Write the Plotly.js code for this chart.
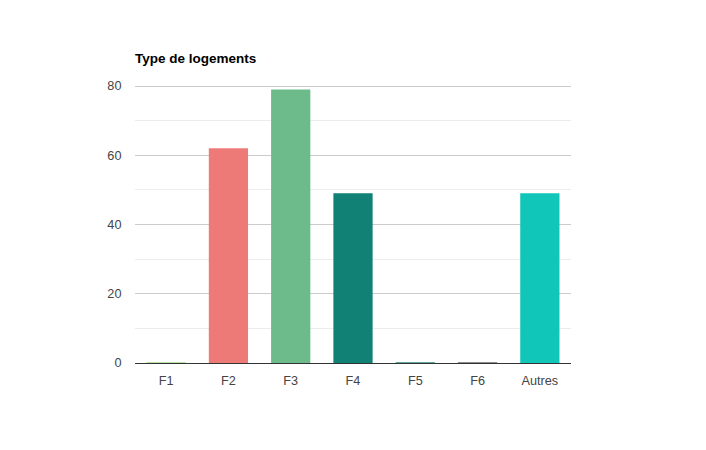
<!DOCTYPE html>
<html><head><meta charset="utf-8">
<script src="https://cdn.plot.ly/plotly-3.0.1.min.js"></script>
<style>body{margin:0;background:#fff}#c{width:706px;height:450px}</style>
</head><body><div id="c"></div>
<script>
const categories = ["F1","F2","F3","F4","F5","F6","Autres"];
const values = [0.3, 62, 79, 49, 0.3, 0.3, 49];
const colors = ["#b7e2a3","#ee7a78","#6dbb8b","#108174","#5fa89f","#8a8a8a","#10c6b8"];
const yTicks = [0,20,40,60,80];
const chartTitle = "Type de logements";

Plotly.newPlot("c", [{
  type: "bar", x: categories, y: values,
  marker: {color: colors},
  hoverinfo: "none"
}], {
  width: 706, height: 450,
  margin: {l:135, r:135, t:85, b:87},
  paper_bgcolor: "#fff", plot_bgcolor: "#fff",
  bargap: 0.37,
  font: {family: "Liberation Sans, Arial, sans-serif", size: 12.7, color: "#444"},
  title: {text: "<b>" + chartTitle + "</b>", x: 0, xref: "paper", xanchor: "left",
          y: 1 - 58/450, yref: "container", yanchor: "middle",
          font: {size: 13.5, color: "#000", family: "Liberation Sans, Arial, sans-serif"}},
  xaxis: {showgrid: false, showline: true, linecolor: "#333", linewidth: 1,
          ticks: "outside", ticklen: 6, tickcolor: "rgba(0,0,0,0)",
          tickfont: {size: 12.7, color: "#444"}, fixedrange: true},
  yaxis: {range: [0, 80.3], tickvals: yTicks, showgrid: true, gridcolor: "#cccccc",
          zeroline: false, showline: false,
          ticks: "outside", ticklen: 10, tickcolor: "rgba(0,0,0,0)",
          minor: {dtick: 10, showgrid: true, gridcolor: "#ececec", ticks: ""},
          tickfont: {size: 12.7, color: "#444"}, fixedrange: true}
}, {displayModeBar: false, staticPlot: true});
</script></body></html>
